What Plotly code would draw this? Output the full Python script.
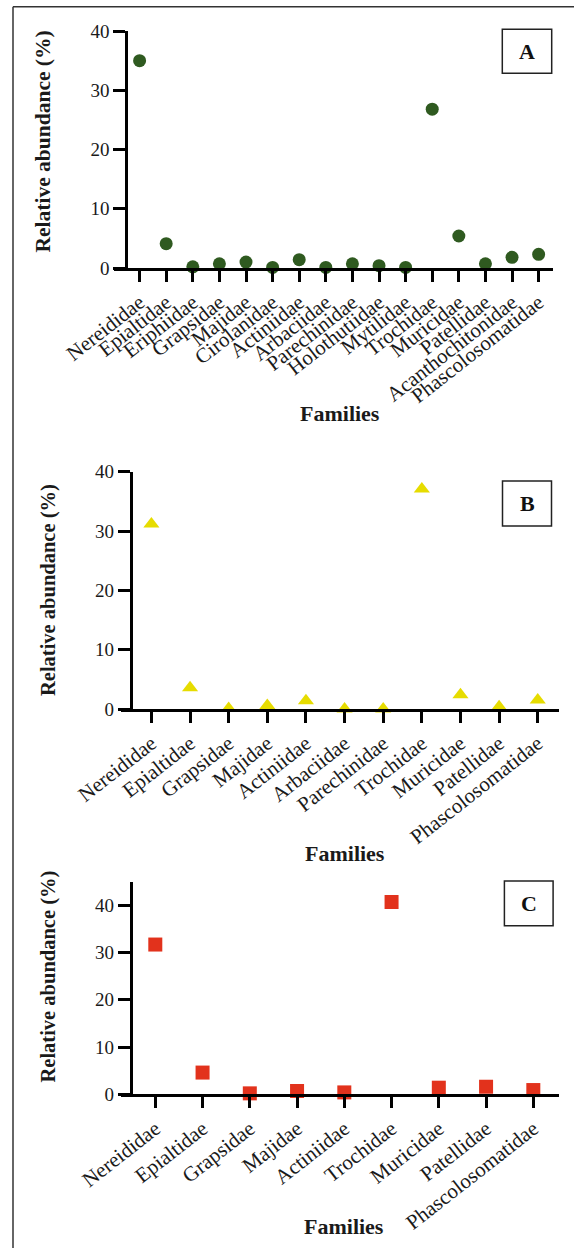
import plotly.graph_objects as go

# panel A - all families
families_a = ["Nereididae", "Epialtidae", "Eriphiidae", "Grapsidae", "Majidae",
              "Cirolanidae", "Actiniidae", "Arbaciidae", "Parechinidae",
              "Holothutiidae", "Mytilidae", "Trochidae", "Muricidae",
              "Patellidae", "Acanthochitonidae", "Phascolosomatidae"]
abund_a = [35.0, 4.1, 0.2, 0.7, 1.0, 0.1, 1.4, 0.1, 0.7, 0.4, 0.1, 26.8, 5.4, 0.7, 1.8, 2.3]

# panel B
families_b = ["Nereididae", "Epialtidae", "Grapsidae", "Majidae", "Actiniidae",
              "Arbaciidae", "Parechinidae", "Trochidae", "Muricidae",
              "Patellidae", "Phascolosomatidae"]
abund_b = [31.2, 3.6, 0.1, 0.6, 1.4, 0.0, 0.0, 37.1, 2.4, 0.4, 1.5]

# panel C
families_c = ["Nereididae", "Epialtidae", "Grapsidae", "Majidae", "Actiniidae",
              "Trochidae", "Muricidae", "Patellidae", "Phascolosomatidae"]
abund_c = [31.7, 4.6, 0.2, 0.7, 0.4, 40.7, 1.4, 1.6, 0.9]

W, H = 574, 1248
SERIF = "Liberation Serif, Times New Roman, serif"


def fx(px):
    return px / W


def fy(py):
    return 1 - py / H


fig = go.Figure()

fig.add_trace(go.Scatter(x=families_a, y=abund_a, mode='markers', xaxis='x', yaxis='y',
                         marker=dict(symbol='circle', size=13, color='#2f5a20'),
                         cliponaxis=False, showlegend=False))
fig.add_trace(go.Scatter(x=families_b, y=abund_b, mode='markers', xaxis='x2', yaxis='y2',
                         marker=dict(symbol='triangle-up', size=14, color='#e6dc00'),
                         cliponaxis=False, showlegend=False))
fig.add_trace(go.Scatter(x=families_c, y=abund_c, mode='markers', xaxis='x3', yaxis='y3',
                         marker=dict(symbol='square', size=14, color='#e2321c'),
                         cliponaxis=False, showlegend=False))

xcommon = dict(showline=True, linecolor='black', linewidth=3, ticks='outside',
               ticklen=11, tickwidth=3, tickcolor='black', tickangle=-38,
               showgrid=False, zeroline=False, tickmode='array', automargin=False,
               tickfont=dict(family=SERIF, size=21, color='#1a1a1a'))
ycommon = dict(showline=True, linecolor='black', linewidth=3, ticks='outside',
               ticklen=12, tickwidth=3, tickcolor='black', showgrid=False,
               zeroline=False, anchor='free', dtick=10, automargin=False,
               tickfont=dict(family=SERIF, size=19, color='#1a1a1a'))

fig.update_layout(
    xaxis=dict(xcommon, domain=[fx(113.6), fx(553)], range=[-0.977, 15.54],
               anchor='y', tickvals=families_a, ticktext=families_a),
    yaxis=dict(ycommon, domain=[fy(268), fy(31)], range=[0, 40], position=fx(126.4)),
    xaxis2=dict(xcommon, domain=[fx(121), fx(558.6)], range=[-0.787, 10.54],
                anchor='y2', tickvals=families_b, ticktext=families_b),
    yaxis2=dict(ycommon, domain=[fy(709), fy(471.7)], range=[0, 40], position=fx(130.8)),
    xaxis3=dict(xcommon, domain=[fx(121), fx(558.6)], range=[-0.726, 8.535],
                anchor='y3', tickvals=families_c, ticktext=families_c),
    yaxis3=dict(ycommon, domain=[fy(1094.3), fy(881.7)], range=[0, 45], position=fx(130.8)),
)

# titles
ytitles = [(43, 141.5, 21.5), (48, 590, 20.5), (48, 976.5, 20.5)]
for x, y, s in ytitles:
    fig.add_annotation(x=fx(x), y=fy(y), xref='paper', yref='paper', showarrow=False,
                       xanchor='center', yanchor='middle',
                       text='Relative abundance (%)', textangle=-90,
                       font=dict(family=SERIF, size=s, color='#1a1a1a', weight='bold'))

for x, y in [(339.7, 413), (345, 853), (344.3, 1226.7)]:
    fig.add_annotation(x=fx(x), y=fy(y), xref='paper', yref='paper', showarrow=False,
                       xanchor='center', yanchor='middle', text='Families',
                       font=dict(family=SERIF, size=22, color='#1a1a1a', weight='bold'))

# panel letters in boxes
shapes = []
boxes = [('A', 502.3, 551.7, 29.3, 73.3), ('B', 502.5, 551.5, 481, 526),
         ('C', 504.4, 553.1, 881, 925.7)]
for lab, x0, x1, y0, y1 in boxes:
    shapes.append(dict(type='rect', xref='paper', yref='paper', x0=fx(x0), x1=fx(x1),
                       y0=fy(y1), y1=fy(y0), line=dict(color='#222', width=1.5)))
    fig.add_annotation(x=fx((x0 + x1) / 2), y=fy((y0 + y1) / 2), xref='paper', yref='paper',
                       showarrow=False, text=lab, xanchor='center', yanchor='middle',
                       font=dict(family=SERIF, size=22, color='#111', weight='bold'))

# outer frame (top and left edges only)
shapes.append(dict(type='line', xref='paper', yref='paper', x0=fx(13), x1=1,
                   y0=fy(6.7), y1=fy(6.7), line=dict(color='#333', width=1.5)))
shapes.append(dict(type='line', xref='paper', yref='paper', x0=fx(13), x1=fx(13),
                   y0=fy(6.7), y1=0, line=dict(color='#333', width=1.5)))

fig.update_layout(shapes=shapes, width=W, height=H, autosize=False, template='none',
                  margin=dict(l=0, r=0, t=0, b=0, pad=0),
                  paper_bgcolor='white', plot_bgcolor='white', showlegend=False)

# page body has a default 8px margin; drop it so the figure fills the window
fig.write_html("out.html", config={'displayModeBar': False},
               post_script="document.body.style.margin='0';")
